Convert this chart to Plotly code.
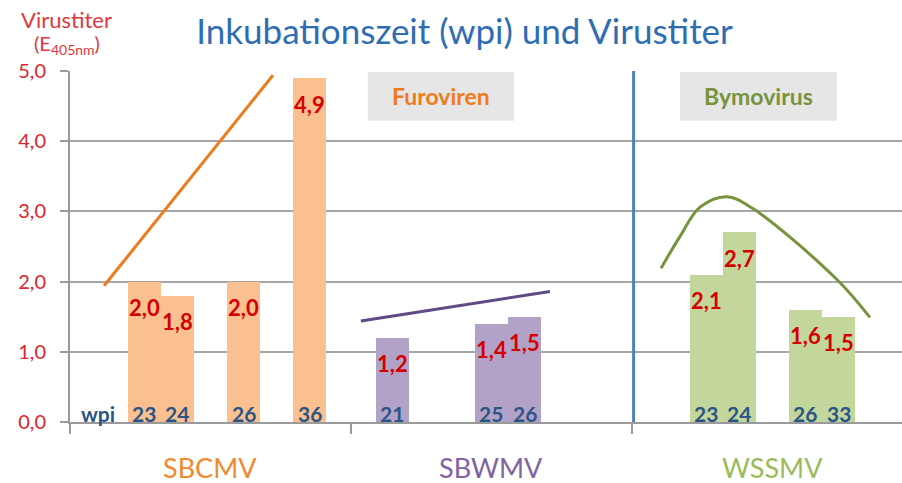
import plotly.graph_objects as go

# wpi categories shared by all three virus groups (sorted union)
wpi_order = [21, 23, 24, 25, 26, 33, 36]

groups = ["SBCMV", "SBWMV", "WSSMV"]

sbcmv_wpi = [23, 24, 26, 36]
sbcmv_titer = [2.0, 1.8, 2.0, 4.9]

sbwmv_wpi = [21, 25, 26]
sbwmv_titer = [1.2, 1.4, 1.5]

wssmv_wpi = [23, 24, 26, 33]
wssmv_titer = [2.1, 2.7, 1.6, 1.5]

# hand-drawn trend lines (x in wpi-slot units across the axis, y in titer)
sbcmv_trend_x = [1.03, 6.14]
sbcmv_trend_y = [1.94, 4.94]
sbwmv_trend_x = [8.80, 14.52]
sbwmv_trend_y = [1.44, 1.86]
wssmv_trend_x = [17.88, 18.45, 19.06, 19.87, 20.66, 23.2, 24.2]
wssmv_trend_y = [2.19, 2.64, 3.06, 3.21, 3.04, 2.03, 1.49]

y_ticks = [0, 1, 2, 3, 4, 5]
y_ticktext = ["0,0", "1,0", "2,0", "3,0", "4,0", "5,0"]

FONT = "Lato, Carlito, 'Open Sans', sans-serif"
GROUP_W = 8.5
PAD = 1.25

bar_colors = ["#fac090", "#b3a2c7", "#c3d69b"]
line_colors = ["#ee7b1c", "#5f4a85", "#77933c"]
label_colors = ["#f08a30", "#8064a2", "#9bbb59"]

series = [
    (sbcmv_wpi, sbcmv_titer, sbcmv_trend_x, sbcmv_trend_y),
    (sbwmv_wpi, sbwmv_titer, sbwmv_trend_x, sbwmv_trend_y),
    (wssmv_wpi, wssmv_titer, wssmv_trend_x, wssmv_trend_y),
]

fig = go.Figure()
annotations = []

for g, (wpi, titer, tx, ty) in enumerate(series):
    xs = [g * GROUP_W + PAD + wpi_order.index(w) for w in wpi]
    fig.add_trace(go.Bar(
        x=xs,
        y=titer,
        width=1.0,
        marker=dict(color=bar_colors[g], line=dict(width=0)),
        name=groups[g],
        showlegend=False,
    ))
    fig.add_trace(go.Scatter(
        x=tx,
        y=ty,
        mode="lines",
        line=dict(color=line_colors[g], width=3,
                  shape="spline" if len(tx) > 2 else "linear"),
        showlegend=False,
    ))
    for x, w, v in zip(xs, wpi, titer):
        annotations.append(dict(
            x=x, y=v, text="<b>%s</b>" % ("%.1f" % v).replace(".", ","),
            showarrow=False, yanchor="middle", yshift=-26,
            font=dict(family=FONT, size=22, color="#d40000"),
        ))
        annotations.append(dict(
            x=x, y=0, text="<b>%d</b>" % w,
            showarrow=False, yanchor="middle", yshift=9,
            font=dict(family=FONT, size=21, color="#2a5585"),
        ))
    annotations.append(dict(
        x=g * GROUP_W + GROUP_W / 2, y=0, yshift=-45, text=groups[g],
        showarrow=False, yanchor="middle",
        font=dict(family=FONT, size=27, color=label_colors[g]),
    ))

annotations.append(dict(
    x=0.85, y=0, yshift=9, text="<b>wpi</b>", showarrow=False, yanchor="middle",
    font=dict(family=FONT, size=21, color="#2a5585"),
))

# group boxes and the Furoviren / Bymovirus divider
shapes = [
    dict(type="rect", xref="x", yref="y", x0=9.01, x1=13.43, y0=4.29, y1=4.985,
         fillcolor="#e6e6e6", line=dict(width=0), layer="below"),
    dict(type="rect", xref="x", yref="y", x0=18.45, x1=23.2, y0=4.29, y1=4.985,
         fillcolor="#e6e6e6", line=dict(width=0), layer="below"),
    dict(type="line", xref="x", yref="y", x0=17.05, x1=17.05, y0=0, y1=5.11,
         line=dict(color="#4f81bd", width=3)),
]
annotations.append(dict(
    x=11.22, y=4.64, text="<b>Furoviren</b>", showarrow=False,
    font=dict(family=FONT, size=23, color="#ee7b1c"),
))
annotations.append(dict(
    x=20.82, y=4.64, text="<b>Bymovirus</b>", showarrow=False,
    font=dict(family=FONT, size=23, color="#77933c"),
))

# y-axis title in the top-left corner
annotations.append(dict(
    xref="paper", yref="paper", x=-0.061, y=1.0, yshift=52, xanchor="left",
    yanchor="middle", text="Virustiter", showarrow=False,
    font=dict(family=FONT, size=22, color="#e0383c"),
))
annotations.append(dict(
    xref="paper", yref="paper", x=-0.046, y=1.0, yshift=27, xanchor="left",
    yanchor="middle", text="(E<sub>405nm</sub>)", showarrow=False,
    font=dict(family=FONT, size=20, color="#e0383c"),
))

fig.update_layout(
    title=dict(
        text="Inkubationszeit (wpi) und Virustiter",
        x=0.515, xanchor="center", y=0.935, yanchor="middle",
        font=dict(family=FONT, size=35, color="#2e6db4"),
    ),
    width=902,
    height=483,
    margin=dict(l=70, r=0, t=71, b=61),
    paper_bgcolor="white",
    plot_bgcolor="white",
    barmode="overlay",
    bargap=0,
    showlegend=False,
    font=dict(family=FONT),
    annotations=annotations,
    shapes=shapes,
    xaxis=dict(
        range=[0, 25.17],
        tickvals=[0, GROUP_W, 2 * GROUP_W],
        showticklabels=False,
        ticks="outside",
        ticklen=10,
        tickwidth=2,
        tickcolor="#9a9a9a",
        showgrid=False,
        zeroline=False,
        showline=True,
        linecolor="#9a9a9a",
        linewidth=2,
        automargin=False,
    ),
    yaxis=dict(
        range=[0, 5],
        tickvals=y_ticks,
        ticktext=y_ticktext,
        ticks="outside",
        ticklen=8,
        tickwidth=2,
        tickcolor="#9a9a9a",
        ticklabelstandoff=10,
        showgrid=True,
        gridcolor="#a6a6a6",
        gridwidth=2,
        zeroline=False,
        showline=True,
        linecolor="#9a9a9a",
        linewidth=2,
        automargin=False,
        tickfont=dict(family=FONT, size=20, color="#e0242a"),
    ),
)

fig.write_html("out.html", config={"displayModeBar": False},
               post_script="document.body.style.margin='0';")
